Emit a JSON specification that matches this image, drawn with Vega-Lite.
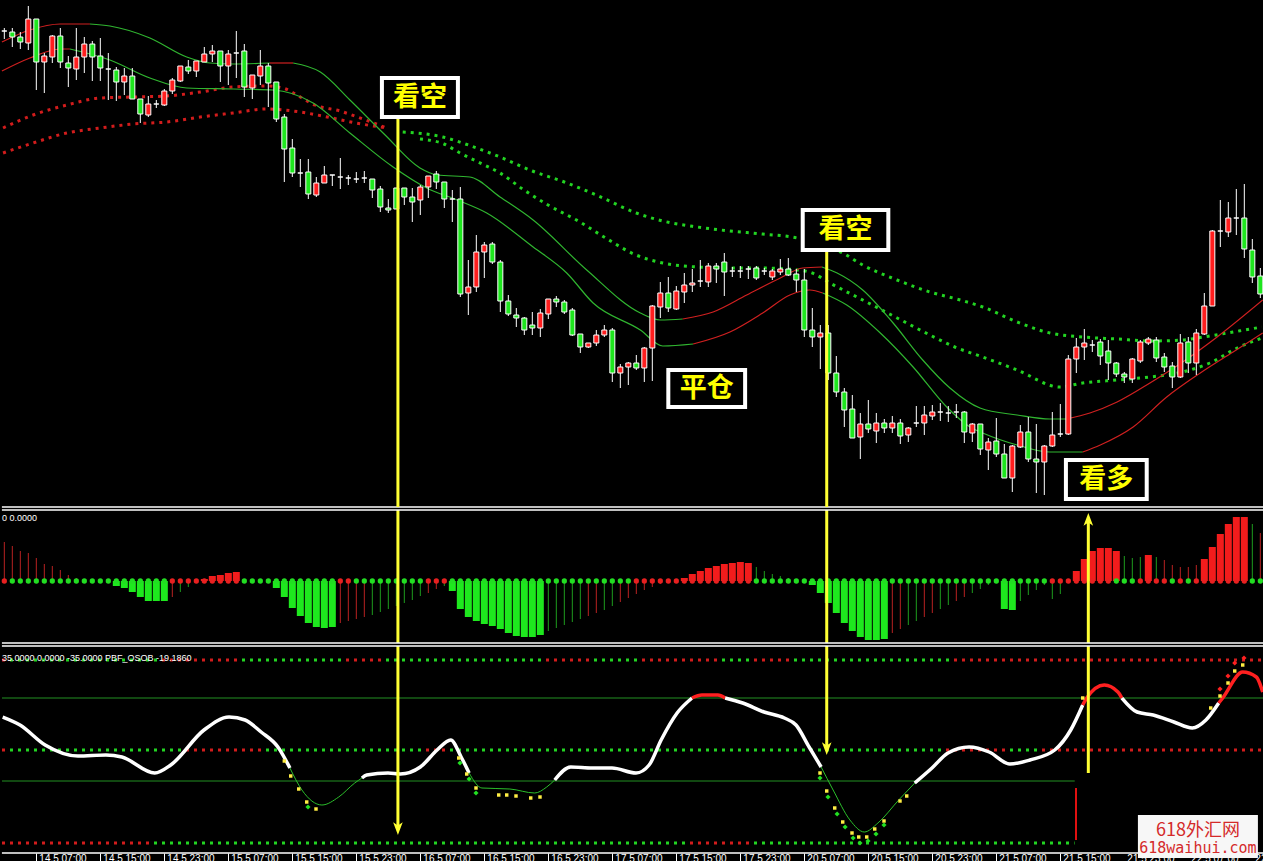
{
"$schema":"https://vega.github.io/schema/vega-lite/v6.json",
"background":"#000000",
"padding":0,
"spacing":3,
"bounds":"flush",
"config":{"view":{"stroke":null},"axis":{"grid":false},"scale":{"continuousPadding":0}},
"datasets":{
"candles":[
{"i":0,"o":969,"h":972,"l":961,"c":969},{"i":1,"o":968,"h":972,"l":953,"c":963},{"i":2,"o":963,"h":968,"l":951,"c":958},{"i":3,"o":957,"h":994,"l":950,"c":981},{"i":4,"o":981,"h":981,"l":910,"c":938},{"i":5,"o":938,"h":947,"l":907,"c":944},{"i":6,"o":943,"h":965,"l":937,"c":964},{"i":7,"o":964,"h":972,"l":932,"c":938},{"i":8,"o":937,"h":944,"l":913,"c":932},{"i":9,"o":931,"h":972,"l":920,"c":943},
{"i":10,"o":943,"h":963,"l":927,"c":956},{"i":11,"o":956,"h":959,"l":919,"c":943},{"i":12,"o":944,"h":962,"l":919,"c":932},{"i":13,"o":931,"h":947,"l":900,"c":931},{"i":14,"o":930,"h":933,"l":899,"c":918},{"i":15,"o":918,"h":932,"l":905,"c":924},{"i":16,"o":924,"h":932,"l":901,"c":901},{"i":17,"o":901,"h":901,"l":877,"c":886},{"i":18,"o":885,"h":904,"l":883,"c":896},{"i":19,"o":896,"h":900,"l":892,"c":896},
{"i":20,"o":895,"h":911,"l":894,"c":909},{"i":21,"o":909,"h":922,"l":906,"c":920},{"i":22,"o":919,"h":934,"l":918,"c":934},{"i":23,"o":933,"h":940,"l":926,"c":929},{"i":24,"o":929,"h":939,"l":923,"c":939},{"i":25,"o":938,"h":953,"l":938,"c":946},{"i":26,"o":946,"h":955,"l":938,"c":949},{"i":27,"o":949,"h":949,"l":918,"c":934},{"i":28,"o":934,"h":950,"l":915,"c":946},{"i":29,"o":947,"h":969,"l":922,"c":947},
{"i":30,"o":949,"h":956,"l":903,"c":913},{"i":31,"o":912,"h":925,"l":901,"c":925},{"i":32,"o":924,"h":950,"l":915,"c":934},{"i":33,"o":934,"h":937,"l":893,"c":917},{"i":34,"o":918,"h":918,"l":878,"c":881},{"i":35,"o":883,"h":886,"l":818,"c":851},{"i":36,"o":852,"h":861,"l":823,"c":827},{"i":37,"o":827,"h":841,"l":813,"c":827},{"i":38,"o":828,"h":841,"l":801,"c":806},{"i":39,"o":805,"h":823,"l":803,"c":817},
{"i":40,"o":817,"h":834,"l":817,"c":825},{"i":41,"o":825,"h":825,"l":814,"c":825},{"i":42,"o":823,"h":842,"l":811,"c":823},{"i":43,"o":822,"h":825,"l":815,"c":822},{"i":44,"o":821,"h":828,"l":817,"c":821},{"i":45,"o":822,"h":829,"l":817,"c":822},{"i":46,"o":821,"h":821,"l":802,"c":810},{"i":47,"o":811,"h":814,"l":788,"c":793},{"i":48,"o":792,"h":801,"l":787,"c":790},{"i":49,"o":812,"h":812,"l":791,"c":791},
{"i":50,"o":812,"h":812,"l":795,"c":803},{"i":51,"o":803,"h":812,"l":778,"c":798},{"i":52,"o":800,"h":815,"l":785,"c":813},{"i":53,"o":813,"h":824,"l":802,"c":824},{"i":54,"o":826,"h":829,"l":811,"c":818},{"i":55,"o":818,"h":818,"l":792,"c":801},{"i":56,"o":801,"h":810,"l":778,"c":801},{"i":57,"o":801,"h":813,"l":703,"c":706},{"i":58,"o":707,"h":740,"l":685,"c":713},{"i":59,"o":713,"h":765,"l":708,"c":748},
{"i":60,"o":748,"h":758,"l":722,"c":755},{"i":61,"o":756,"h":758,"l":736,"c":738},{"i":62,"o":738,"h":740,"l":688,"c":699},{"i":63,"o":699,"h":705,"l":684,"c":686},{"i":64,"o":685,"h":692,"l":673,"c":682},{"i":65,"o":682,"h":683,"l":665,"c":670},{"i":66,"o":675,"h":688,"l":665,"c":672},{"i":67,"o":672,"h":691,"l":663,"c":687},{"i":68,"o":686,"h":701,"l":681,"c":701},{"i":69,"o":701,"h":704,"l":693,"c":698},
{"i":70,"o":698,"h":700,"l":686,"c":688},{"i":71,"o":690,"h":692,"l":664,"c":665},{"i":72,"o":666,"h":666,"l":647,"c":653},{"i":73,"o":653,"h":657,"l":652,"c":657},{"i":74,"o":657,"h":670,"l":654,"c":665},{"i":75,"o":665,"h":675,"l":663,"c":670},{"i":76,"o":670,"h":672,"l":618,"c":627},{"i":77,"o":627,"h":636,"l":612,"c":633},{"i":78,"o":633,"h":638,"l":615,"c":637},{"i":79,"o":637,"h":645,"l":630,"c":632},
{"i":80,"o":632,"h":653,"l":618,"c":652},{"i":81,"o":652,"h":695,"l":619,"c":694},{"i":82,"o":693,"h":718,"l":682,"c":707},{"i":83,"o":707,"h":723,"l":688,"c":692},{"i":84,"o":691,"h":714,"l":690,"c":709},{"i":85,"o":708,"h":727,"l":697,"c":715},{"i":86,"o":715,"h":731,"l":708,"c":717},{"i":87,"o":719,"h":740,"l":713,"c":719},{"i":88,"o":718,"h":737,"l":713,"c":734},{"i":89,"o":734,"h":737,"l":717,"c":731},
{"i":90,"o":738,"h":747,"l":704,"c":728},{"i":91,"o":729,"h":733,"l":723,"c":729},{"i":92,"o":729,"h":734,"l":722,"c":729},{"i":93,"o":731,"h":734,"l":721,"c":731},{"i":94,"o":732,"h":734,"l":720,"c":722},{"i":95,"o":729,"h":732,"l":725,"c":729},{"i":96,"o":723,"h":731,"l":720,"c":729},{"i":97,"o":728,"h":741,"l":725,"c":731},{"i":98,"o":731,"h":742,"l":724,"c":725},{"i":99,"o":726,"h":731,"l":708,"c":720},
{"i":100,"o":720,"h":731,"l":663,"c":670},{"i":101,"o":670,"h":692,"l":653,"c":663},{"i":102,"o":663,"h":675,"l":631,"c":667},{"i":103,"o":667,"h":675,"l":620,"c":627},{"i":104,"o":627,"h":644,"l":603,"c":608},{"i":105,"o":608,"h":612,"l":573,"c":590},{"i":106,"o":591,"h":605,"l":562,"c":562},{"i":107,"o":563,"h":587,"l":541,"c":576},{"i":108,"o":576,"h":600,"l":567,"c":571},{"i":109,"o":569,"h":587,"l":557,"c":577},
{"i":110,"o":577,"h":581,"l":567,"c":572},{"i":111,"o":572,"h":584,"l":567,"c":577},{"i":112,"o":577,"h":581,"l":556,"c":564},{"i":113,"o":565,"h":573,"l":558,"c":572},{"i":114,"o":577,"h":594,"l":573,"c":577},{"i":115,"o":577,"h":594,"l":565,"c":585},{"i":116,"o":584,"h":595,"l":580,"c":588},{"i":117,"o":588,"h":597,"l":579,"c":588},{"i":118,"o":587,"h":594,"l":578,"c":587},{"i":119,"o":588,"h":596,"l":582,"c":588},
{"i":120,"o":588,"h":589,"l":557,"c":568},{"i":121,"o":567,"h":577,"l":558,"c":576},{"i":122,"o":576,"h":576,"l":545,"c":551},{"i":123,"o":550,"h":562,"l":530,"c":558},{"i":124,"o":559,"h":582,"l":543,"c":546},{"i":125,"o":546,"h":556,"l":522,"c":522},{"i":126,"o":522,"h":555,"l":508,"c":554},{"i":127,"o":553,"h":575,"l":552,"c":568},{"i":128,"o":568,"h":583,"l":538,"c":541},{"i":129,"o":541,"h":576,"l":507,"c":538},
{"i":130,"o":538,"h":555,"l":505,"c":554},{"i":131,"o":554,"h":588,"l":553,"c":565},{"i":132,"o":566,"h":596,"l":563,"c":566},{"i":133,"o":566,"h":645,"l":565,"c":641},{"i":134,"o":641,"h":662,"l":627,"c":653},{"i":135,"o":653,"h":671,"l":640,"c":657},{"i":136,"o":655,"h":660,"l":648,"c":655},{"i":137,"o":658,"h":661,"l":635,"c":644},{"i":138,"o":649,"h":660,"l":620,"c":637},{"i":139,"o":637,"h":638,"l":623,"c":626},
{"i":140,"o":626,"h":628,"l":617,"c":623},{"i":141,"o":621,"h":642,"l":617,"c":641},{"i":142,"o":639,"h":660,"l":637,"c":658},{"i":143,"o":657,"h":663,"l":655,"c":661},{"i":144,"o":660,"h":663,"l":638,"c":642},{"i":145,"o":643,"h":647,"l":628,"c":633},{"i":146,"o":634,"h":638,"l":612,"c":623},{"i":147,"o":623,"h":666,"l":622,"c":657},{"i":148,"o":658,"h":663,"l":627,"c":637},{"i":149,"o":637,"h":671,"l":625,"c":667},
{"i":150,"o":666,"h":707,"l":665,"c":694},{"i":151,"o":694,"h":770,"l":694,"c":769},{"i":152,"o":769,"h":800,"l":753,"c":769},{"i":153,"o":768,"h":798,"l":763,"c":782},{"i":154,"o":782,"h":811,"l":765,"c":782},{"i":155,"o":782,"h":816,"l":742,"c":751},{"i":156,"o":750,"h":761,"l":717,"c":723},{"i":157,"o":724,"h":732,"l":702,"c":706}
],
"ma":[
{"s":"A1","d":"up","i":-0.3,"v":958},{"s":"A1","d":"up","i":3.2,"v":970},{"s":"A1","d":"up","i":7.0,"v":976},{"s":"A1","d":"up","i":10.7,"v":976},
{"s":"A2","d":"dn","i":10.7,"v":976},{"s":"A2","d":"dn","i":13.2,"v":974},{"s":"A2","d":"dn","i":18.2,"v":962},{"s":"A2","d":"dn","i":22.8,"v":943},{"s":"A2","d":"dn","i":25.7,"v":937},{"s":"A2","d":"dn","i":28.6,"v":936},{"s":"A2","d":"dn","i":33.2,"v":937},
{"s":"A3","d":"up","i":33.2,"v":937},{"s":"A3","d":"up","i":36.1,"v":937},
{"s":"A4","d":"dn","i":36.1,"v":937},{"s":"A4","d":"dn","i":39.5,"v":928},{"s":"A4","d":"dn","i":43.2,"v":900},{"s":"A4","d":"dn","i":47.6,"v":865},{"s":"A4","d":"dn","i":51.96,"v":832},{"s":"A4","d":"dn","i":54.1,"v":825},{"s":"A4","d":"dn","i":58.2,"v":823},{"s":"A4","d":"dn","i":61.96,"v":803},{"s":"A4","d":"dn","i":66.1,"v":780},{"s":"A4","d":"dn","i":72.8,"v":730},{"s":"A4","d":"dn","i":79.5,"v":687},{"s":"A4","d":"dn","i":82.0,"v":680},{"s":"A4","d":"dn","i":84.8,"v":681},
{"s":"A5","d":"up","i":84.8,"v":681},{"s":"A5","d":"up","i":88.6,"v":688},{"s":"A5","d":"up","i":92.8,"v":705},{"s":"A5","d":"up","i":97.0,"v":722},{"s":"A5","d":"up","i":99.8,"v":732},{"s":"A5","d":"up","i":102.2,"v":733},
{"s":"A6","d":"dn","i":102.2,"v":733},{"s":"A6","d":"dn","i":104.1,"v":727},{"s":"A6","d":"dn","i":107.3,"v":710},{"s":"A6","d":"dn","i":111.1,"v":677},{"s":"A6","d":"dn","i":114.8,"v":640},{"s":"A6","d":"dn","i":118.2,"v":612},{"s":"A6","d":"dn","i":121.96,"v":592},{"s":"A6","d":"dn","i":126.6,"v":585},{"s":"A6","d":"dn","i":130.7,"v":581},{"s":"A6","d":"dn","i":132.8,"v":581},
{"s":"A7","d":"up","i":132.8,"v":581},{"s":"A7","d":"up","i":135.7,"v":587},{"s":"A7","d":"up","i":139.1,"v":598},{"s":"A7","d":"up","i":143.2,"v":617},{"s":"A7","d":"up","i":147.3,"v":638},{"s":"A7","d":"up","i":151.6,"v":663},{"s":"A7","d":"up","i":157.3,"v":700},
{"s":"B1","d":"up","i":-0.3,"v":929},{"s":"B1","d":"up","i":3.2,"v":942},{"s":"B1","d":"up","i":7.0,"v":951},{"s":"B1","d":"up","i":8.2,"v":951},
{"s":"B2","d":"dn","i":8.2,"v":951},{"s":"B2","d":"dn","i":13.2,"v":940},{"s":"B2","d":"dn","i":18.2,"v":922},{"s":"B2","d":"dn","i":22.8,"v":912},{"s":"B2","d":"dn","i":28.6,"v":911},{"s":"B2","d":"dn","i":33.6,"v":910},{"s":"B2","d":"dn","i":38.6,"v":897},{"s":"B2","d":"dn","i":43.2,"v":867},{"s":"B2","d":"dn","i":48.6,"v":833},{"s":"B2","d":"dn","i":52.8,"v":812},{"s":"B2","d":"dn","i":56.6,"v":800},{"s":"B2","d":"dn","i":60.3,"v":787},{"s":"B2","d":"dn","i":66.1,"v":753},{"s":"B2","d":"dn","i":70.3,"v":727},{"s":"B2","d":"dn","i":73.6,"v":697},{"s":"B2","d":"dn","i":79.5,"v":670},{"s":"B2","d":"dn","i":82.3,"v":654},{"s":"B2","d":"dn","i":86.1,"v":656},
{"s":"B3","d":"up","i":86.1,"v":656},{"s":"B3","d":"up","i":90.7,"v":668},{"s":"B3","d":"up","i":94.8,"v":687},{"s":"B3","d":"up","i":98.2,"v":705},{"s":"B3","d":"up","i":100.7,"v":710},{"s":"B3","d":"up","i":102.3,"v":707},
{"s":"B4","d":"dn","i":102.3,"v":707},{"s":"B4","d":"dn","i":105.3,"v":695},{"s":"B4","d":"dn","i":109.5,"v":667},{"s":"B4","d":"dn","i":113.6,"v":633},{"s":"B4","d":"dn","i":117.8,"v":593},{"s":"B4","d":"dn","i":120.7,"v":573},{"s":"B4","d":"dn","i":122.3,"v":567},{"s":"B4","d":"dn","i":126.6,"v":555},{"s":"B4","d":"dn","i":130.7,"v":548},{"s":"B4","d":"dn","i":134.8,"v":548},
{"s":"B5","d":"up","i":134.8,"v":548},{"s":"B5","d":"up","i":137.0,"v":555},{"s":"B5","d":"up","i":141.1,"v":573},{"s":"B5","d":"up","i":145.3,"v":603},{"s":"B5","d":"up","i":149.5,"v":627},{"s":"B5","d":"up","i":153.6,"v":648},{"s":"B5","d":"up","i":157.3,"v":667}
],
"dl":[
{"s":"DA1","d":"up","i":-0.16,"v":872},{"s":"DA1","d":"up","i":3.6,"v":885},{"s":"DA1","d":"up","i":7.8,"v":895},{"s":"DA1","d":"up","i":12.0,"v":902},{"s":"DA1","d":"up","i":16.1,"v":903},{"s":"DA1","d":"up","i":20.3,"v":904},{"s":"DA1","d":"up","i":24.5,"v":908},{"s":"DA1","d":"up","i":28.6,"v":913},{"s":"DA1","d":"up","i":32.8,"v":914},{"s":"DA1","d":"up","i":34.8,"v":912},{"s":"DA1","d":"up","i":37.0,"v":903},{"s":"DA1","d":"up","i":38.8,"v":895},{"s":"DA1","d":"up","i":41.96,"v":889},{"s":"DA1","d":"up","i":44.8,"v":881},{"s":"DA1","d":"up","i":47.8,"v":872},
{"s":"DA2","d":"dn","i":49.8,"v":868},{"s":"DA2","d":"dn","i":54.8,"v":863},{"s":"DA2","d":"dn","i":58.0,"v":855},{"s":"DA2","d":"dn","i":61.96,"v":843},{"s":"DA2","d":"dn","i":66.0,"v":829},{"s":"DA2","d":"dn","i":70.0,"v":818},{"s":"DA2","d":"dn","i":74.0,"v":805},{"s":"DA2","d":"dn","i":79.0,"v":787},{"s":"DA2","d":"dn","i":82.3,"v":779},{"s":"DA2","d":"dn","i":86.6,"v":773},{"s":"DA2","d":"dn","i":90.7,"v":769},{"s":"DA2","d":"dn","i":94.8,"v":766},{"s":"DA2","d":"dn","i":99.1,"v":762},{"s":"DA2","d":"dn","i":101.0,"v":758},{"s":"DA2","d":"dn","i":104.8,"v":747},{"s":"DA2","d":"dn","i":107.3,"v":735},{"s":"DA2","d":"dn","i":111.6,"v":720},{"s":"DA2","d":"dn","i":115.7,"v":708},{"s":"DA2","d":"dn","i":119.5,"v":700},{"s":"DA2","d":"dn","i":122.3,"v":693},{"s":"DA2","d":"dn","i":126.6,"v":678},{"s":"DA2","d":"dn","i":130.7,"v":667},{"s":"DA2","d":"dn","i":134.8,"v":663},{"s":"DA2","d":"dn","i":139.1,"v":661},{"s":"DA2","d":"dn","i":143.2,"v":659},{"s":"DA2","d":"dn","i":147.3,"v":660},{"s":"DA2","d":"dn","i":149.9,"v":663},{"s":"DA2","d":"dn","i":153.6,"v":668},{"s":"DA2","d":"dn","i":157.2,"v":673},
{"s":"DB1","d":"up","i":-0.16,"v":847},{"s":"DB1","d":"up","i":3.6,"v":857},{"s":"DB1","d":"up","i":7.8,"v":867},{"s":"DB1","d":"up","i":12.0,"v":872},{"s":"DB1","d":"up","i":16.1,"v":876},{"s":"DB1","d":"up","i":20.3,"v":878},{"s":"DB1","d":"up","i":24.5,"v":883},{"s":"DB1","d":"up","i":28.6,"v":887},{"s":"DB1","d":"up","i":32.8,"v":891},{"s":"DB1","d":"up","i":37.0,"v":888},{"s":"DB1","d":"up","i":40.96,"v":882},{"s":"DB1","d":"up","i":43.96,"v":877},{"s":"DB1","d":"up","i":47.8,"v":872},
{"s":"DB2","d":"dn","i":51.96,"v":861},{"s":"DB2","d":"dn","i":54.96,"v":856},{"s":"DB2","d":"dn","i":56.96,"v":847},{"s":"DB2","d":"dn","i":58.96,"v":839},{"s":"DB2","d":"dn","i":61.96,"v":827},{"s":"DB2","d":"dn","i":64.96,"v":810},{"s":"DB2","d":"dn","i":67.96,"v":795},{"s":"DB2","d":"dn","i":71.96,"v":778},{"s":"DB2","d":"dn","i":74.96,"v":763},{"s":"DB2","d":"dn","i":78.96,"v":745},{"s":"DB2","d":"dn","i":82.3,"v":737},{"s":"DB2","d":"dn","i":86.6,"v":733},{"s":"DB2","d":"dn","i":90.7,"v":732},{"s":"DB2","d":"dn","i":94.8,"v":732},{"s":"DB2","d":"dn","i":99.1,"v":730},{"s":"DB2","d":"dn","i":101.0,"v":727},{"s":"DB2","d":"dn","i":103.2,"v":717},{"s":"DB2","d":"dn","i":107.3,"v":700},{"s":"DB2","d":"dn","i":111.6,"v":682},{"s":"DB2","d":"dn","i":115.7,"v":665},{"s":"DB2","d":"dn","i":118.8,"v":653},{"s":"DB2","d":"dn","i":122.3,"v":643},{"s":"DB2","d":"dn","i":126.6,"v":630},{"s":"DB2","d":"dn","i":131.96,"v":613},{"s":"DB2","d":"dn","i":134.8,"v":617},{"s":"DB2","d":"dn","i":139.1,"v":620},{"s":"DB2","d":"dn","i":143.2,"v":623},{"s":"DB2","d":"dn","i":147.3,"v":628},{"s":"DB2","d":"dn","i":150.7,"v":637},{"s":"DB2","d":"dn","i":154.1,"v":652},{"s":"DB2","d":"dn","i":157.2,"v":662}
],
"boxes":[
{"t":"看空","i":47.2,"i2":56.7,"v":922,"v2":883,"ic":51.95,"vc":902.5},
{"t":"看空","i":99.8,"i2":110.5,"v":790,"v2":750,"ic":105.15,"vc":770},
{"t":"平仓","i":83.0,"i2":92.6,"v":630,"v2":593,"ic":87.8,"vc":611.5},
{"t":"看多","i":132.7,"i2":142.8,"v":540,"v2":501,"ic":137.75,"vc":520.5}
],
"ar1":[{"i":49.2,"v":882,"v2":493},{"i":102.8,"v":750,"v2":493}],
"sep1":[{"i":-0.3,"i2":160,"v":493}],
"hist":[
{"i":0,"h":39,"k":"rl","d":"r"},{"i":1,"h":35,"k":"rl","d":"g"},{"i":2,"h":30,"k":"rl","d":"g"},{"i":3,"h":28,"k":"rl","d":"g"},{"i":4,"h":23,"k":"rl","d":"g"},{"i":5,"h":17,"k":"rl","d":"g"},{"i":6,"h":15,"k":"rl","d":"g"},{"i":7,"h":11,"k":"rl","d":"g"},{"i":8,"h":6,"k":"rl","d":"g"},{"i":9,"h":3,"k":"rl","d":"g"},
{"i":10,"h":0,"k":"n","d":"g"},{"i":11,"h":0,"k":"n","d":"g"},{"i":12,"h":0,"k":"n","d":"g"},{"i":13,"h":0,"k":"n","d":"g"},{"i":14,"h":-5,"k":"gb","d":"g"},{"i":15,"h":-7,"k":"gb","d":"g"},{"i":16,"h":-11,"k":"gb","d":"g"},{"i":17,"h":-16,"k":"gb","d":"g"},{"i":18,"h":-20,"k":"gb","d":"g"},{"i":19,"h":-20,"k":"gb","d":"g"},
{"i":20,"h":-20,"k":"gb","d":"g"},{"i":21,"h":-16,"k":"rl","d":"r"},{"i":22,"h":-11,"k":"gl","d":"r"},{"i":23,"h":-6,"k":"gl","d":"r"},{"i":24,"h":0,"k":"n","d":"r"},{"i":25,"h":2,"k":"rb","d":"r"},{"i":26,"h":5,"k":"rb","d":"r"},{"i":27,"h":6,"k":"rb","d":"r"},{"i":28,"h":8,"k":"rb","d":"r"},{"i":29,"h":9,"k":"rb","d":"r"},
{"i":30,"h":0,"k":"n","d":"g"},{"i":31,"h":0,"k":"n","d":"g"},{"i":32,"h":0,"k":"n","d":"g"},{"i":33,"h":0,"k":"n","d":"g"},{"i":34,"h":-7,"k":"gb","d":"g"},{"i":35,"h":-16,"k":"gb","d":"g"},{"i":36,"h":-27,"k":"gb","d":"g"},{"i":37,"h":-35,"k":"gb","d":"g"},{"i":38,"h":-42,"k":"gb","d":"g"},{"i":39,"h":-46,"k":"gb","d":"g"},
{"i":40,"h":-47,"k":"gb","d":"g"},{"i":41,"h":-46,"k":"gb","d":"g"},{"i":42,"h":-42,"k":"rl","d":"r"},{"i":43,"h":-40,"k":"rl","d":"r"},{"i":44,"h":-38,"k":"rl","d":"g"},{"i":45,"h":-36,"k":"rl","d":"g"},{"i":46,"h":-34,"k":"gl","d":"g"},{"i":47,"h":-31,"k":"gl","d":"g"},{"i":48,"h":-28,"k":"gl","d":"g"},{"i":49,"h":-25,"k":"gl","d":"g"},
{"i":50,"h":-22,"k":"gl","d":"g"},{"i":51,"h":-19,"k":"gl","d":"g"},{"i":52,"h":-15,"k":"gl","d":"g"},{"i":53,"h":-12,"k":"rl","d":"r"},{"i":54,"h":-8,"k":"rl","d":"r"},{"i":55,"h":-5,"k":"gl","d":"r"},{"i":56,"h":-10,"k":"gb","d":"g"},{"i":57,"h":-28,"k":"gb","d":"g"},{"i":58,"h":-36,"k":"gb","d":"g"},{"i":59,"h":-40,"k":"gb","d":"g"},
{"i":60,"h":-43,"k":"gb","d":"g"},{"i":61,"h":-45,"k":"gb","d":"g"},{"i":62,"h":-48,"k":"gb","d":"g"},{"i":63,"h":-52,"k":"gb","d":"g"},{"i":64,"h":-55,"k":"gb","d":"g"},{"i":65,"h":-56,"k":"gb","d":"g"},{"i":66,"h":-56,"k":"gb","d":"g"},{"i":67,"h":-54,"k":"gb","d":"g"},{"i":68,"h":-50,"k":"gl","d":"g"},{"i":69,"h":-47,"k":"gl","d":"g"},
{"i":70,"h":-44,"k":"gl","d":"g"},{"i":71,"h":-41,"k":"gl","d":"g"},{"i":72,"h":-38,"k":"gl","d":"g"},{"i":73,"h":-35,"k":"rl","d":"g"},{"i":74,"h":-32,"k":"rl","d":"g"},{"i":75,"h":-29,"k":"gl","d":"g"},{"i":76,"h":-25,"k":"gl","d":"g"},{"i":77,"h":-21,"k":"rl","d":"g"},{"i":78,"h":-17,"k":"rl","d":"g"},{"i":79,"h":-13,"k":"rl","d":"r"},
{"i":80,"h":-9,"k":"rl","d":"r"},{"i":81,"h":-6,"k":"rl","d":"r"},{"i":82,"h":-3,"k":"rl","d":"r"},{"i":83,"h":0,"k":"n","d":"r"},{"i":84,"h":0,"k":"n","d":"r"},{"i":85,"h":3,"k":"rb","d":"r"},{"i":86,"h":7,"k":"rb","d":"r"},{"i":87,"h":10,"k":"rb","d":"r"},{"i":88,"h":13,"k":"rb","d":"r"},{"i":89,"h":15,"k":"rb","d":"r"},
{"i":90,"h":17,"k":"rb","d":"r"},{"i":91,"h":18,"k":"rb","d":"r"},{"i":92,"h":19,"k":"rb","d":"r"},{"i":93,"h":18,"k":"rb","d":"r"},{"i":94,"h":14,"k":"gl","d":"g"},{"i":95,"h":10,"k":"gl","d":"g"},{"i":96,"h":7,"k":"gl","d":"g"},{"i":97,"h":5,"k":"gl","d":"g"},{"i":98,"h":3,"k":"gl","d":"g"},{"i":99,"h":0,"k":"n","d":"g"},
{"i":100,"h":0,"k":"n","d":"g"},{"i":101,"h":-4,"k":"gb","d":"g"},{"i":102,"h":-12,"k":"gb","d":"g"},{"i":103,"h":-22,"k":"gb","d":"g"},{"i":104,"h":-32,"k":"gb","d":"g"},{"i":105,"h":-42,"k":"gb","d":"g"},{"i":106,"h":-50,"k":"gb","d":"g"},{"i":107,"h":-56,"k":"gb","d":"g"},{"i":108,"h":-59,"k":"gb","d":"g"},{"i":109,"h":-59,"k":"gb","d":"g"},
{"i":110,"h":-58,"k":"gb","d":"g"},{"i":111,"h":-52,"k":"rl","d":"g"},{"i":112,"h":-48,"k":"rl","d":"g"},{"i":113,"h":-44,"k":"gl","d":"g"},{"i":114,"h":-40,"k":"gl","d":"g"},{"i":115,"h":-36,"k":"rl","d":"g"},{"i":116,"h":-32,"k":"rl","d":"g"},{"i":117,"h":-28,"k":"gl","d":"g"},{"i":118,"h":-24,"k":"gl","d":"g"},{"i":119,"h":-20,"k":"rl","d":"g"},
{"i":120,"h":-16,"k":"rl","d":"g"},{"i":121,"h":-12,"k":"gl","d":"g"},{"i":122,"h":-8,"k":"gl","d":"g"},{"i":123,"h":-4,"k":"gl","d":"g"},{"i":124,"h":0,"k":"n","d":"g"},{"i":125,"h":-28,"k":"gb","d":"g"},{"i":126,"h":-29,"k":"gb","d":"g"},{"i":127,"h":-20,"k":"gl","d":"g"},{"i":128,"h":-14,"k":"gl","d":"g"},{"i":129,"h":-9,"k":"gl","d":"g"},
{"i":130,"h":-4,"k":"gl","d":"g"},{"i":131,"h":-18,"k":"gl","d":"r"},{"i":132,"h":-13,"k":"gl","d":"r"},{"i":133,"h":0,"k":"n","d":"r"},{"i":134,"h":10,"k":"rb","d":"r"},{"i":135,"h":22,"k":"rb","d":"r"},{"i":136,"h":30,"k":"rb","d":"r"},{"i":137,"h":33,"k":"rb","d":"r"},{"i":138,"h":33,"k":"rb","d":"r"},{"i":139,"h":30,"k":"rb","d":"g"},
{"i":140,"h":25,"k":"gl","d":"g"},{"i":141,"h":23,"k":"gl","d":"g"},{"i":142,"h":24,"k":"gl","d":"r"},{"i":143,"h":26,"k":"rb","d":"r"},{"i":144,"h":24,"k":"gl","d":"r"},{"i":145,"h":21,"k":"rl","d":"r"},{"i":146,"h":16,"k":"rl","d":"g"},{"i":147,"h":14,"k":"rl","d":"r"},{"i":148,"h":14,"k":"rl","d":"g"},{"i":149,"h":16,"k":"rl","d":"r"},
{"i":150,"h":22,"k":"rb","d":"r"},{"i":151,"h":34,"k":"rb","d":"r"},{"i":152,"h":47,"k":"rb","d":"r"},{"i":153,"h":57,"k":"rb","d":"r"},{"i":154,"h":64,"k":"rb","d":"r"},{"i":155,"h":64,"k":"rb","d":"r"},{"i":156,"h":57,"k":"gl","d":"g"},{"i":157,"h":48,"k":"rl","d":"g"}
],
"ar2":[{"i":49.2,"h":71,"h2":-62},{"i":102.8,"h":71,"h2":-62},{"i":135.5,"h":62,"h2":-62}],
"head2":[{"i":135.5,"h":60}],
"sep2":[{"i":-0.3,"i2":160,"h":71},{"i":-0.3,"i2":160,"h":-62}],
"lab2":[{"i":-0.3,"h":63,"t":"0 0.0000"}],
"levels":[
{"i":-0.29,"i2":0.71,"v":90,"d":"r"},{"i":0.71,"i2":19.71,"v":90,"d":"g"},{"i":19.71,"i2":29.71,"v":90,"d":"r"},{"i":29.71,"i2":42.71,"v":90,"d":"g"},{"i":42.71,"i2":47.71,"v":90,"d":"r"},{"i":47.71,"i2":67.71,"v":90,"d":"g"},{"i":67.71,"i2":73.71,"v":90,"d":"r"},{"i":73.71,"i2":79.71,"v":90,"d":"g"},{"i":79.71,"i2":89.71,"v":90,"d":"r"},{"i":89.71,"i2":93.71,"v":90,"d":"g"},{"i":93.71,"i2":98.71,"v":90,"d":"r"},{"i":98.71,"i2":118.71,"v":90,"d":"g"},{"i":118.71,"i2":158,"v":90,"d":"r"},
{"i":-0.29,"i2":0.71,"v":0,"d":"r"},{"i":0.71,"i2":22.71,"v":0,"d":"g"},{"i":22.71,"i2":32.71,"v":0,"d":"r"},{"i":32.71,"i2":52.71,"v":0,"d":"g"},{"i":52.71,"i2":55.71,"v":0,"d":"r"},{"i":55.71,"i2":117.71,"v":0,"d":"g"},{"i":117.71,"i2":125.71,"v":0,"d":"r"},{"i":125.71,"i2":129.71,"v":0,"d":"g"},{"i":129.71,"i2":158,"v":0,"d":"r"},
{"i":-0.29,"i2":18.71,"v":-93,"d":"r"},{"i":18.71,"i2":85.71,"v":-93,"d":"g"},{"i":85.71,"i2":93.71,"v":-93,"d":"r"},{"i":93.71,"i2":133.8,"v":-93,"d":"g"}
],
"solid":[{"i":-0.29,"i2":158,"v":52},{"i":-0.29,"i2":158,"v":-31}],
"patch":[{"i":133.8,"i2":160,"v":-23,"v2":-112}],
"redline":[{"i":133.96,"v":-38,"v2":-90}],
"osc":[
{"s":"W1","k":"w","i":-0.2,"v":33},{"s":"W1","k":"w","i":1.96,"v":25},{"s":"W1","k":"w","i":5.1,"v":5},{"s":"W1","k":"w","i":9.2,"v":-6},{"s":"W1","k":"w","i":12.7,"v":-5},{"s":"W1","k":"w","i":14.7,"v":-7},{"s":"W1","k":"w","i":18.8,"v":-23},{"s":"W1","k":"w","i":20.8,"v":-15},{"s":"W1","k":"w","i":24.96,"v":20},{"s":"W1","k":"w","i":28.1,"v":33},{"s":"W1","k":"w","i":30.1,"v":30},{"s":"W1","k":"w","i":32.1,"v":18},{"s":"W1","k":"w","i":34.2,"v":3},{"s":"W1","k":"w","i":35.7,"v":-18},
{"s":"G1","k":"g","i":35.7,"v":-18},{"s":"G1","k":"g","i":37.2,"v":-40},{"s":"G1","k":"g","i":39.7,"v":-55},{"s":"G1","k":"g","i":41.8,"v":-47},{"s":"G1","k":"g","i":43.8,"v":-33},{"s":"G1","k":"g","i":44.7,"v":-28},
{"s":"W2","k":"w","i":44.7,"v":-28},{"s":"W2","k":"w","i":45.3,"v":-25},{"s":"W2","k":"w","i":47.96,"v":-23},{"s":"W2","k":"w","i":49.5,"v":-24},{"s":"W2","k":"w","i":52.0,"v":-17},{"s":"W2","k":"w","i":54.1,"v":0},{"s":"W2","k":"w","i":55.8,"v":10},{"s":"W2","k":"w","i":57.1,"v":-7},{"s":"W2","k":"w","i":58.1,"v":-23},
{"s":"G2","k":"g","i":58.1,"v":-23},{"s":"G2","k":"g","i":59.7,"v":-38},{"s":"G2","k":"g","i":63.2,"v":-39},{"s":"G2","k":"g","i":66.3,"v":-43},{"s":"G2","k":"g","i":67.8,"v":-37},{"s":"G2","k":"g","i":68.8,"v":-30},
{"s":"W3","k":"w","i":68.8,"v":-30},{"s":"W3","k":"w","i":70.8,"v":-17},{"s":"W3","k":"w","i":73.5,"v":-18},{"s":"W3","k":"w","i":75.96,"v":-18},{"s":"W3","k":"w","i":78.96,"v":-23},{"s":"W3","k":"w","i":80.6,"v":-15},{"s":"W3","k":"w","i":82.1,"v":10},{"s":"W3","k":"w","i":84.1,"v":37},{"s":"W3","k":"w","i":85.96,"v":52},
{"s":"R1","k":"r","i":85.96,"v":52},{"s":"R1","k":"r","i":87.2,"v":55},{"s":"R1","k":"r","i":89.2,"v":55},{"s":"R1","k":"r","i":90.1,"v":52},
{"s":"W4","k":"w","i":90.1,"v":52},{"s":"W4","k":"w","i":92.3,"v":47},{"s":"W4","k":"w","i":94.96,"v":38},{"s":"W4","k":"w","i":97.5,"v":32},{"s":"W4","k":"w","i":98.96,"v":25},{"s":"W4","k":"w","i":100.6,"v":3},{"s":"W4","k":"w","i":102.1,"v":-17},
{"s":"G3","k":"g","i":102.1,"v":-17},{"s":"G3","k":"g","i":103.6,"v":-40},{"s":"G3","k":"g","i":105.7,"v":-70},{"s":"G3","k":"g","i":107.5,"v":-82},{"s":"G3","k":"g","i":109.2,"v":-73},{"s":"G3","k":"g","i":111.8,"v":-50},{"s":"G3","k":"g","i":113.8,"v":-33},
{"s":"W5","k":"w","i":113.8,"v":-33},{"s":"W5","k":"w","i":115.96,"v":-18},{"s":"W5","k":"w","i":117.96,"v":-3},{"s":"W5","k":"w","i":120.6,"v":3},{"s":"W5","k":"w","i":123.1,"v":-2},{"s":"W5","k":"w","i":125.7,"v":-14},{"s":"W5","k":"w","i":128.2,"v":-10},{"s":"W5","k":"w","i":131.3,"v":0},{"s":"W5","k":"w","i":133.3,"v":20},{"s":"W5","k":"w","i":134.8,"v":45},
{"s":"R2","k":"r","i":134.8,"v":45},{"s":"R2","k":"r","i":135.3,"v":52},{"s":"R2","k":"r","i":137.5,"v":65},{"s":"R2","k":"r","i":139.2,"v":58},{"s":"R2","k":"r","i":139.7,"v":52},
{"s":"W6","k":"w","i":139.7,"v":52},{"s":"W6","k":"w","i":141.6,"v":38},{"s":"W6","k":"w","i":143.6,"v":35},{"s":"W6","k":"w","i":146.2,"v":28},{"s":"W6","k":"w","i":148.5,"v":22},{"s":"W6","k":"w","i":150.2,"v":30},{"s":"W6","k":"w","i":151.8,"v":47},
{"s":"R3","k":"r","i":151.8,"v":47},{"s":"R3","k":"r","i":152.3,"v":52},{"s":"R3","k":"r","i":154.8,"v":78},{"s":"R3","k":"r","i":156.5,"v":73},{"s":"R3","k":"r","i":157.3,"v":58}
],
"odots":[
{"k":"y","i":35.0,"v":-11},{"k":"y","i":35.8,"v":-26},{"k":"y","i":36.8,"v":-39},{"k":"y","i":37.8,"v":-52},{"k":"y","i":38.96,"v":-59},{"k":"y","i":56.8,"v":-8},{"k":"y","i":57.8,"v":-24},{"k":"y","i":58.96,"v":-38},{"k":"y","i":61.8,"v":-45},{"k":"y","i":62.8,"v":-45},{"k":"y","i":63.96,"v":-46},{"k":"y","i":65.8,"v":-48},{"k":"y","i":66.96,"v":-47},
{"k":"y","i":101.96,"v":-23},{"k":"y","i":102.8,"v":-41},{"k":"y","i":103.8,"v":-58},{"k":"y","i":104.8,"v":-72},{"k":"y","i":105.96,"v":-83},{"k":"y","i":106.8,"v":-87},{"k":"y","i":107.8,"v":-87},{"k":"y","i":108.8,"v":-79},{"k":"y","i":109.96,"v":-71},{"k":"y","i":111.96,"v":-51},{"k":"y","i":112.8,"v":-46},
{"k":"y","i":134.8,"v":52},{"k":"y","i":150.8,"v":42},{"k":"y","i":151.96,"v":54},{"k":"y","i":152.96,"v":67},{"k":"y","i":153.8,"v":79},{"k":"y","i":154.8,"v":85},
{"k":"g","i":37.96,"v":-57},{"k":"g","i":56.96,"v":-13},{"k":"g","i":58.1,"v":-29},{"k":"g","i":58.96,"v":-43},{"k":"g","i":101.96,"v":-28},{"k":"g","i":102.96,"v":-47},{"k":"g","i":104.1,"v":-64},{"k":"g","i":105.1,"v":-77},{"k":"g","i":106.1,"v":-88},{"k":"g","i":106.96,"v":-93},{"k":"g","i":107.96,"v":-91},{"k":"g","i":108.96,"v":-84},{"k":"g","i":109.96,"v":-75},
{"k":"r","i":151.96,"v":61},{"k":"r","i":152.96,"v":74},{"k":"r","i":153.8,"v":87},{"k":"r","i":154.96,"v":92}
],
"ar3":[{"i":49.2,"v":104,"v2":-80},{"i":102.8,"v":104,"v2":0},{"i":135.5,"v":104,"v2":-23}],
"head3":[{"i":49.2,"v":-77},{"i":102.8,"v":3}],
"sep3":[{"i":-0.3,"i2":160,"v":104},{"i":-0.3,"i2":160,"v":-103}],
"tlab":[
{"i":4,"v":-103,"t":"14.5 07:00"},{"i":12,"v":-103,"t":"14.5 15:00"},{"i":20,"v":-103,"t":"14.5 23:00"},{"i":28,"v":-103,"t":"15.5 07:00"},{"i":36,"v":-103,"t":"15.5 15:00"},{"i":44,"v":-103,"t":"15.5 23:00"},{"i":52,"v":-103,"t":"16.5 07:00"},{"i":60,"v":-103,"t":"16.5 15:00"},{"i":68,"v":-103,"t":"16.5 23:00"},{"i":76,"v":-103,"t":"17.5 07:00"},
{"i":84,"v":-103,"t":"17.5 15:00"},{"i":92,"v":-103,"t":"17.5 23:00"},{"i":100,"v":-103,"t":"20.5 07:00"},{"i":108,"v":-103,"t":"20.5 15:00"},{"i":116,"v":-103,"t":"20.5 23:00"},{"i":124,"v":-103,"t":"21.5 07:00"},{"i":132,"v":-103,"t":"21.5 15:00"},{"i":140,"v":-103,"t":"21.5 23:00"},{"i":148,"v":-103,"t":"22.5 07:00"},{"i":156,"v":-103,"t":"22.5 15:00"}
],
"wm":[{"i":141.7,"i2":156.7,"v":-65,"v2":-108}],
"wmt1":[{"i":149.2,"v":-81,"t":"618外汇网"}],
"wmt2":[{"i":149.2,"v":-98,"t":"618waihui.com"}],
"lab3":[{"i":-0.3,"v":92,"t":"35.0000 0.0000 -35.0000 PBF_OSOB -19.1860"}]
},
"vconcat":[
{
"width":1263,"height":507,
"encoding":{
"x":{"field":"i","type":"quantitative","scale":{"domain":[-0.54,157.335],"nice":false,"zero":false,"padding":0},"axis":null},
"y":{"field":"v","type":"quantitative","scale":{"domain":[493,1000],"nice":false,"zero":false},"axis":null}
},
"layer":[
{"data":{"name":"dl"},"mark":{"type":"line","strokeWidth":3,"strokeDash":[3,5],"strokeJoin":"round","interpolate":"monotone"},"encoding":{"detail":{"field":"s"},"stroke":{"condition":{"test":"datum.d=='up'","value":"#d21c1c"},"value":"#22d422"}}},
{"data":{"name":"ma"},"mark":{"type":"line","strokeWidth":1.2,"strokeJoin":"round","interpolate":"monotone"},"encoding":{"detail":{"field":"s"},"stroke":{"condition":{"test":"datum.d=='up'","value":"#d02020"},"value":"#30b530"}}},
{"data":{"name":"candles"},"mark":{"type":"rule","color":"#ffffff","strokeWidth":1},"encoding":{"y":{"field":"l","type":"quantitative","scale":{"domain":[493,1000],"nice":false,"zero":false},"axis":null},"y2":{"field":"h"}}},
{"data":{"name":"candles"},"mark":{"type":"bar","width":5,"stroke":"#ffffff","strokeWidth":1},"encoding":{"y":{"field":"o","type":"quantitative","scale":{"domain":[493,1000],"nice":false,"zero":false},"axis":null},"y2":{"field":"c"},"fill":{"condition":{"test":"datum.c > datum.o","value":"#ff1e1e"},"value":"#1ee61e"}}},
{"data":{"name":"sep1"},"mark":{"type":"rule","color":"#ffffff","strokeWidth":1.5},"encoding":{"x2":{"field":"i2"}}},
{"data":{"name":"ar1"},"mark":{"type":"rule","color":"#ffff33","strokeWidth":3},"encoding":{"y2":{"field":"v2"}}},
{"data":{"name":"boxes"},"mark":{"type":"rect","fill":"#000000","stroke":"#ffffff","strokeWidth":4},"encoding":{"x2":{"field":"i2"},"y2":{"field":"v2"}}},
{"data":{"name":"boxes"},"mark":{"type":"text","font":"Noto Sans CJK SC","fontWeight":"bold","fontSize":27,"color":"#ffff00","align":"center","baseline":"middle"},"encoding":{"x":{"field":"ic","type":"quantitative","scale":{"domain":[-0.54,157.335],"nice":false,"zero":false,"padding":0},"axis":null},"y":{"field":"vc","type":"quantitative","scale":{"domain":[493,1000],"nice":false,"zero":false},"axis":null},"text":{"field":"t"}}}
]
},
{
"width":1263,"height":133,
"encoding":{
"x":{"field":"i","type":"quantitative","scale":{"domain":[-0.54,157.335],"nice":false,"zero":false,"padding":0},"axis":null},
"y":{"field":"h","type":"quantitative","scale":{"domain":[-62,71],"nice":false,"zero":false},"axis":null}
},
"layer":[
{"data":{"name":"hist"},"transform":[{"filter":"datum.k=='rl'||datum.k=='gl'"}],"mark":{"type":"rule","strokeWidth":1},"encoding":{"y2":{"datum":0},"stroke":{"condition":{"test":"datum.k=='rl'","value":"#b82222"},"value":"#1e9c1e"}}},
{"data":{"name":"hist"},"transform":[{"filter":"datum.k=='rb'||datum.k=='gb'"}],"mark":{"type":"bar","width":7},"encoding":{"y2":{"datum":0},"fill":{"condition":{"test":"datum.k=='rb'","value":"#f21c1c"},"value":"#1ee81e"}}},
{"data":{"name":"hist"},"mark":{"type":"point","filled":true,"size":28,"opacity":1,"strokeWidth":0},"encoding":{"y":{"datum":0,"type":"quantitative","scale":{"domain":[-62,71],"nice":false,"zero":false},"axis":null},"fill":{"condition":{"test":"datum.d=='r'","value":"#e82020"},"value":"#22dd22"}}},
{"data":{"name":"ar2"},"mark":{"type":"rule","color":"#ffff33","strokeWidth":3},"encoding":{"y2":{"field":"h2"}}},
{"data":{"name":"head2"},"mark":{"type":"point","shape":"M0,-1L-0.6,0.6L0,0.2L0.6,0.6Z","size":256,"filled":true,"color":"#ffff33","opacity":1,"strokeWidth":0},"encoding":{}},
{"data":{"name":"sep2"},"mark":{"type":"rule","color":"#ffffff","strokeWidth":1.5},"encoding":{"x2":{"field":"i2"}}},
{"data":{"name":"lab2"},"mark":{"type":"text","align":"left","baseline":"middle","fontSize":9,"font":"Liberation Sans","color":"#ffffff"},"encoding":{"text":{"field":"t"}}}
]
},
{
"width":1263,"height":207,
"encoding":{
"x":{"field":"i","type":"quantitative","scale":{"domain":[-0.54,157.335],"nice":false,"zero":false,"padding":0},"axis":{"values":[4,12,20,28,36,44,52,60,68,76,84,92,100,108,116,124,132,140,148,156],"domain":false,"labels":false,"ticks":true,"tickColor":"#ffffff","tickSize":8,"tickWidth":1,"grid":false,"title":null}},
"y":{"field":"v","type":"quantitative","scale":{"domain":[-103,104],"nice":false,"zero":false},"axis":null}
},
"layer":[
{"data":{"name":"levels"},"mark":{"type":"rule","strokeWidth":3,"strokeDash":[3,5]},"encoding":{"x2":{"field":"i2"},"stroke":{"condition":{"test":"datum.d=='r'","value":"#d21c1c"},"value":"#22d422"}}},
{"data":{"name":"solid"},"mark":{"type":"rule","color":"#229022","strokeWidth":1},"encoding":{"x2":{"field":"i2"}}},
{"data":{"name":"osc"},"mark":{"type":"line","interpolate":"monotone","strokeJoin":"round"},"encoding":{"detail":{"field":"s"},"stroke":{"condition":[{"test":"datum.k=='r'","value":"#ff2020"},{"test":"datum.k=='g'","value":"#2bbf2b"}],"value":"#ffffff"},"strokeWidth":{"condition":{"test":"datum.k=='g'","value":1},"value":3.5}}},
{"data":{"name":"odots"},"mark":{"type":"point","filled":true,"opacity":1,"strokeWidth":0},"encoding":{"shape":{"condition":{"test":"datum.k=='y'","value":"square"},"value":"diamond"},"size":{"condition":{"test":"datum.k=='y'","value":12},"value":26},"fill":{"condition":[{"test":"datum.k=='y'","value":"#ffee44"},{"test":"datum.k=='r'","value":"#ff2020"}],"value":"#22e022"}}},
{"data":{"name":"patch"},"mark":{"type":"rect","fill":"#000000"},"encoding":{"x2":{"field":"i2"},"y2":{"field":"v2"}}},
{"data":{"name":"redline"},"mark":{"type":"rule","color":"#e01010","strokeWidth":2},"encoding":{"y2":{"field":"v2"}}},
{"data":{"name":"ar3"},"mark":{"type":"rule","color":"#ffff33","strokeWidth":3},"encoding":{"y2":{"field":"v2"}}},
{"data":{"name":"head3"},"mark":{"type":"point","shape":"M0,1L-0.6,-0.6L0,-0.2L0.6,-0.6Z","size":256,"filled":true,"color":"#ffff33","opacity":1,"strokeWidth":0},"encoding":{}},
{"data":{"name":"sep3"},"mark":{"type":"rule","color":"#ffffff","strokeWidth":1.5},"encoding":{"x2":{"field":"i2"}}},
{"data":{"name":"tlab"},"mark":{"type":"text","align":"left","baseline":"top","dx":3,"dy":1,"fontSize":10,"font":"Liberation Sans","fill":"#ffffff","opacity":1},"encoding":{"text":{"field":"t"}}},
{"data":{"name":"wm"},"mark":{"type":"rect","fill":"#f7f7f7"},"encoding":{"x2":{"field":"i2"},"y2":{"field":"v2"}}},
{"data":{"name":"wmt1"},"mark":{"type":"text","align":"center","baseline":"middle","fontSize":18,"font":"Noto Sans CJK SC","color":"#d42a2a"},"encoding":{"text":{"field":"t"}}},
{"data":{"name":"wmt2"},"mark":{"type":"text","align":"center","baseline":"middle","fontSize":15,"font":"DejaVu Sans Mono","color":"#d42a2a"},"encoding":{"text":{"field":"t"}}},
{"data":{"name":"lab3"},"mark":{"type":"text","align":"left","baseline":"middle","fontSize":9,"font":"Liberation Sans","color":"#ffffff"},"encoding":{"text":{"field":"t"}}}
]
}
]
}
